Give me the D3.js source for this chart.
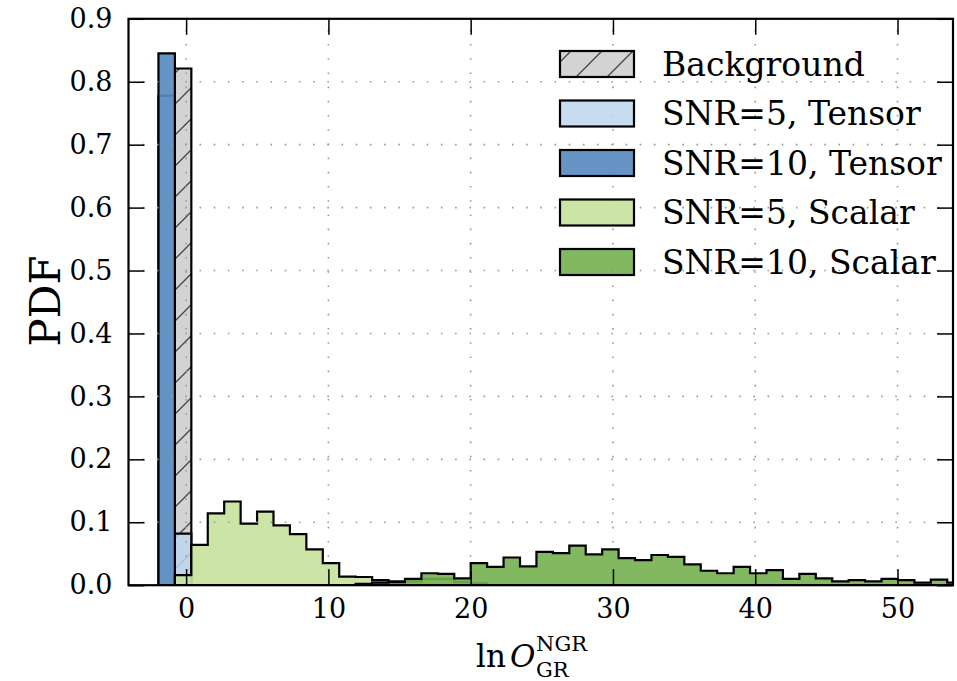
<!DOCTYPE html>
<html>
<head>
<meta charset="utf-8">
<script src="https://cdn.jsdelivr.net/npm/d3@7"></script>
<style>
  body { margin: 0; background: #fff; }
  text { font-family: "DejaVu Serif", serif; fill: #000; }
</style>
</head>
<body>
<div id="chart"></div>
<script>
// histogram bins (shared by all series), ln O values
var binLo = -1.944, binW = 1.155;

// bin heights (PDF), index 0 = first bin starting at binLo
var background  = [0, 0.821];
var snr5Tensor  = [0.778, 0.082];
var snr10Tensor = [0.845];
var snr5Scalar  = [0, 0.016, 0.064, 0.114, 0.133, 0.098, 0.117, 0.095, 0.081, 0.057,
                   0.035, 0.0135, 0.013, 0.008, 0.006, 0.006, 0.010, 0.010, 0.005, 0.003];
var snr10Scalar = [0, 0, 0, 0, 0, 0, 0, 0, 0, 0, 0, 0,
                   0.002, 0.004, 0.005, 0.010, 0.019, 0.018, 0.011, 0.035, 0.029, 0.044,
                   0.030, 0.053, 0.051, 0.063, 0.049, 0.057, 0.043, 0.040, 0.048, 0.045,
                   0.033, 0.023, 0.019, 0.029, 0.019, 0.024, 0.010, 0.018, 0.011, 0.006,
                   0.008, 0.006, 0.010, 0.008, 0.004, 0.009, 0.004];

var seriesNames = ["Background", "SNR=5, Tensor", "SNR=10, Tensor", "SNR=5, Scalar", "SNR=10, Scalar"];
var xTicks = [0, 10, 20, 30, 40, 50];
var yTicks = [0, 0.1, 0.2, 0.3, 0.4, 0.5, 0.6, 0.7, 0.8, 0.9];

var series = [
  {name: seriesNames[0], values: background,  fill: "url(#hatch)", opacity: 1},
  {name: seriesNames[1], values: snr5Tensor,  fill: "#bdd7ec", opacity: 0.85},
  {name: seriesNames[2], values: snr10Tensor, fill: "#5a8bc1", opacity: 0.92},
  {name: seriesNames[3], values: snr5Scalar,  fill: "#c8e3a0", opacity: 0.92},
  {name: seriesNames[4], values: snr10Scalar, fill: "#74b04f", opacity: 0.9}
];

//plot box
var W = 957, H = 681;
var pLeft = 128.5, pRight = 953, pTop = 18.8, pBottom = 585.2;

var x = d3.scaleLinear().domain([-4.05, 53.9]).range([pLeft, pRight]);
var y = d3.scaleLinear().domain([0, 0.9]).range([pBottom, pTop]);

var svg = d3.select("#chart").append("svg")
    .attr("width", W)
    .attr("height", H);

var defs = svg.append("defs");
var pat = defs.append("pattern")
    .attr("id", "hatch")
    .attr("patternUnits", "userSpaceOnUse")
    .attr("width", 31).attr("height", 31);
pat.append("rect").attr("width", 31).attr("height", 31).attr("fill", "#d3d3d3");
pat.append("path")
    .attr("d", "M0,31L31,0M-8,8L8,-8M23,39L39,23")
    .attr("stroke", "#444").attr("stroke-width", 1.3);

defs.append("clipPath").attr("id", "plotclip")
  .append("rect")
    .attr("x", pLeft).attr("y", pTop)
    .attr("width", pRight - pLeft).attr("height", pBottom - pTop);

// step outline for a histogram
function stepPoints(vals) {
  var pts = [[binLo, 0]];
  vals.forEach(function(v, i) {
    pts.push([binLo + i * binW, v]);
    pts.push([binLo + (i + 1) * binW, v]);
  });
  pts.push([binLo + vals.length * binW, 0]);
  return pts;
}

var line = d3.line()
    .x(function(d) { return x(d[0]); })
    .y(function(d) { return y(d[1]); });

var plot = svg.append("g").attr("clip-path", "url(#plotclip)");

plot.selectAll("path.hist")
    .data(series)
    .enter()
    .append("path")
    .attr("class", "hist")
    .attr("d", function(d) { return line(stepPoints(d.values)) + "Z"; })
    .attr("fill", function(d) { return d.fill; })
    .attr("fill-opacity", function(d) { return d.opacity; })
    .attr("stroke", "#000")
    .attr("stroke-width", 2.2)
    .attr("stroke-linejoin", "miter");

// dotted grid on top of the bars
var grid = svg.append("g").attr("stroke", "#999").attr("stroke-width", 1.6)
    .attr("stroke-dasharray", "1.6,12.6");
grid.selectAll("line.gx")
    .data(xTicks)
    .enter().append("line")
    .attr("x1", function(d) { return x(d); }).attr("x2", function(d) { return x(d); })
    .attr("y1", pBottom).attr("y2", pTop);
grid.selectAll("line.gy")
    .data(yTicks)
    .enter().append("line")
    .attr("y1", function(d) { return y(d); }).attr("y2", function(d) { return y(d); })
    .attr("x1", pLeft).attr("x2", pRight);

// axes, ticks pointing inward
var tickLen = 16;
var gx = svg.append("g")
    .attr("transform", "translate(0," + pBottom + ")")
    .call(d3.axisBottom(x).tickValues(xTicks).tickSize(-tickLen).tickPadding(14)
      .tickFormat(d3.format("d")));
var gxTop = svg.append("g")
    .attr("transform", "translate(0," + pTop + ")")
    .call(d3.axisTop(x).tickValues(xTicks).tickSize(-tickLen).tickFormat(""));
var gy = svg.append("g")
    .attr("transform", "translate(" + pLeft + ",0)")
    .call(d3.axisLeft(y).tickValues(yTicks).tickSize(-tickLen).tickPadding(16)
      .tickFormat(d3.format(".1f")));
var gyRight = svg.append("g")
    .attr("transform", "translate(" + pRight + ",0)")
    .call(d3.axisRight(y).tickValues(yTicks).tickSize(-tickLen).tickFormat(""));

[gx, gxTop, gy, gyRight].forEach(function(g) {
  g.select(".domain").remove();
  g.selectAll(".tick line").attr("stroke", "#000").attr("stroke-width", 1.5);
  g.selectAll(".tick text")
    .style("font-family", "DejaVu Serif")
    .style("font-size", "27px");
});
gx.selectAll(".tick text").attr("dy", "0.71em");

svg.append("rect")
    .attr("x", pLeft).attr("y", pTop)
    .attr("width", pRight - pLeft).attr("height", pBottom - pTop)
    .attr("fill", "none")
    .attr("stroke", "#000")
    .attr("stroke-width", 2.2);

// axis labels
svg.append("text")
    .attr("transform", "translate(60,301) rotate(-90)")
    .attr("text-anchor", "middle")
    .style("font-size", "42px")
    .text("PDF");

var xl = svg.append("g");
xl.append("text")
    .attr("x", 506).attr("y", 667)
    .attr("text-anchor", "end")
    .style("font-size", "31px")
    .text("ln");
xl.append("text")
    .attr("x", 510).attr("y", 667)
    .style("font-size", "31px")
    .style("font-style", "italic")
    .text("O");
xl.append("text")
    .attr("x", 536).attr("y", 651)
    .style("font-size", "21px")
    .text("NGR");
xl.append("text")
    .attr("x", 536).attr("y", 677)
    .style("font-size", "21px")
    .text("GR");

// legend
var legend = svg.append("g");
var rowY = d3.scalePoint().domain(seriesNames).range([64, 262]);
var rows = legend.selectAll("g.row")
    .data(series)
    .enter().append("g")
    .attr("transform", function(d) { return "translate(0," + rowY(d.name) + ")"; });
rows.append("rect")
    .attr("x", 560).attr("y", -13)
    .attr("width", 74).attr("height", 26)
    .attr("fill", function(d) { return d.fill; })
    .attr("fill-opacity", function(d) { return d.opacity; })
    .attr("stroke", "#000")
    .attr("stroke-width", 2.2);
rows.append("text")
    .attr("x", 662).attr("y", 0)
    .attr("dy", "0.36em")
    .style("font-size", "33px")
    .text(function(d) { return d.name; });
</script>
</body>
</html>
